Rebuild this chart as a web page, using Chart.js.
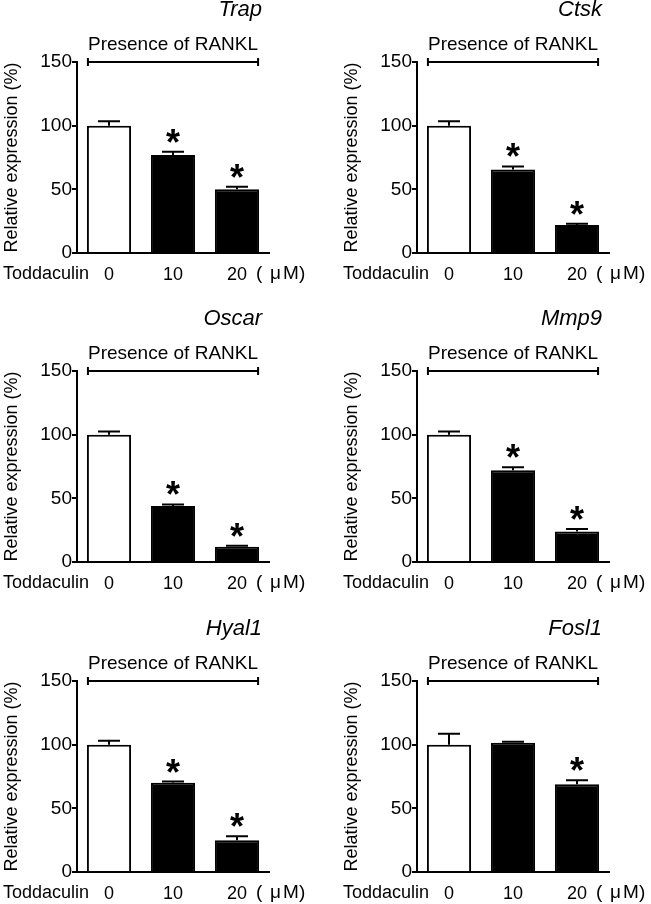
<!DOCTYPE html>
<html>
<head>
<meta charset="utf-8">
<script src="https://cdn.jsdelivr.net/npm/chart.js@4"></script>
<style>
  body { margin: 0; background: #fff; }
  .panel { position: absolute; }
</style>
</head>
<body>
<div class="panel" style="left:0;top:0"><canvas id="trap" width="340" height="285"></canvas></div>
<div class="panel" style="left:340px;top:0"><canvas id="ctsk" width="311" height="285"></canvas></div>
<div class="panel" style="left:0;top:309px"><canvas id="oscar" width="340" height="285"></canvas></div>
<div class="panel" style="left:340px;top:309px"><canvas id="mmp9" width="311" height="285"></canvas></div>
<div class="panel" style="left:0;top:619px"><canvas id="hyal1" width="340" height="285"></canvas></div>
<div class="panel" style="left:340px;top:619px"><canvas id="fosl1" width="311" height="285"></canvas></div>
<script>
const doses = ["0", "10", "20"];
const yTicks = [0, 50, 100, 150];

const trapMean = [100, 77, 50];
const trapErr = [3.5, 2.5, 2];
const trapSig = [false, true, true];

const ctskMean = [100, 65.5, 22];
const ctskErr = [3.5, 2.5, 1];
const ctskSig = [false, true, true];

const oscarMean = [100, 44, 12];
const oscarErr = [2.5, 1.2, 0.8];
const oscarSig = [false, true, true];

const mmp9Mean = [100, 72, 24];
const mmp9Err = [2.5, 2.5, 2];
const mmp9Sig = [false, true, true];

const hyal1Mean = [100, 70, 25];
const hyal1Err = [3, 1, 3];
const hyal1Sig = [false, true, true];

const fosl1Mean = [100, 101.5, 69];
const fosl1Err = [8.5, 0.7, 3];
const fosl1Sig = [false, false, true];

const font = '"Liberation Sans", Arial, sans-serif';
Chart.defaults.font.family = font;
Chart.defaults.color = "#000";

function makePanel(id, gene, mean, err, sig) {
  const canvas = document.getElementById(id);
  const W = canvas.width;

  // error bars, asterisks, RANKL bracket, gene name and axis extras
  const annotate = {
    id: "annotate",
    afterDatasetsDraw(chart) {
      const { ctx, chartArea } = chart;
      const y = chart.scales.y;
      const bars = chart.getDatasetMeta(0).data;
      ctx.save();
      ctx.strokeStyle = "#000";
      ctx.fillStyle = "#000";
      ctx.lineWidth = 2;
      bars.forEach((bar, i) => {
        const yBar = y.getPixelForValue(mean[i]);
        const yErr = y.getPixelForValue(mean[i] + err[i]);
        ctx.beginPath();
        ctx.moveTo(bar.x, yBar);
        ctx.lineTo(bar.x, yErr);
        ctx.moveTo(bar.x - 11, yErr);
        ctx.lineTo(bar.x + 11, yErr);
        ctx.stroke();
        if (sig[i]) {
          ctx.font = "bold 36px " + font;
          ctx.textAlign = "center";
          ctx.textBaseline = "alphabetic";
          ctx.fillText("*", bar.x, yErr + 3);
        }
      });

      // bracket over all bars
      const first = bars[0], last = bars[bars.length - 1];
      const x0 = first.x - first.width / 2 + 1;
      const x1 = last.x + last.width / 2 - 1;
      const yb = chartArea.top;
      ctx.beginPath();
      ctx.moveTo(x0, yb); ctx.lineTo(x1, yb);
      ctx.moveTo(x0, yb - 4); ctx.lineTo(x0, yb + 4);
      ctx.moveTo(x1, yb - 4); ctx.lineTo(x1, yb + 4);
      ctx.stroke();

      ctx.textBaseline = "alphabetic";
      ctx.textAlign = "center";
      ctx.font = "19px " + font;
      ctx.fillText("Presence of RANKL", (x0 + x1) / 2, yb - 12);

      ctx.textAlign = "right";
      ctx.font = "italic 22px " + font;
      ctx.fillText(gene, x1 + 4, yb - 46);

      ctx.textAlign = "left";
      ctx.font = "18px " + font;
      const yl = chartArea.bottom + 26;
      ctx.fillText("Toddaculin", 3, yl);
      ctx.font = "19px " + font;
      ctx.fillText("(", x1 - 2, yl);
      ctx.fillText("\u03bc", x1 + 12, yl);
      ctx.fillText("M)", x1 + 25, yl);
      ctx.restore();
    },
  };

  new Chart(canvas, {
    type: "bar",
    data: {
      labels: doses,
      datasets: [
        {
          data: mean,
          backgroundColor: mean.map((v, i) => (i === 0 ? "#fff" : "#000")),
          borderColor: "#000",
          borderWidth: 2,
          categoryPercentage: 1,
          barPercentage: 0.69,
        },
      ],
    },
    options: {
      responsive: false,
      animation: false,
      layout: { padding: { left: 0, top: 62, right: W - 269, bottom: 0 } },
      plugins: { legend: { display: false }, tooltip: { enabled: false } },
      scales: {
        x: {
          afterFit: (s) => { s.height = 32; },
          grid: { display: false, drawTicks: false },
          border: { display: true, color: "#000", width: 2 },
          ticks: { font: { size: 18 }, padding: 11, color: "#000" },
        },
        y: {
          min: 0,
          max: 150,
          afterFit: (s) => { s.width = 77; },
          afterBuildTicks: (s) => { s.ticks = yTicks.map((v) => ({ value: v })); },
          grid: { drawOnChartArea: false, drawTicks: true, tickLength: 5, color: "#000", lineWidth: 2 },
          border: { display: true, color: "#000", width: 2 },
          ticks: { font: { size: 19 }, padding: 0, color: "#000" },
          title: {
            display: true,
            text: "Relative expression (%)",
            font: { size: 18 },
            color: "#000",
            padding: { top: 1, bottom: 0 },
          },
        },
      },
    },
    plugins: [annotate],
  });
}

makePanel("trap", "Trap", trapMean, trapErr, trapSig);
makePanel("ctsk", "Ctsk", ctskMean, ctskErr, ctskSig);
makePanel("oscar", "Oscar", oscarMean, oscarErr, oscarSig);
makePanel("mmp9", "Mmp9", mmp9Mean, mmp9Err, mmp9Sig);
makePanel("hyal1", "Hyal1", hyal1Mean, hyal1Err, hyal1Sig);
makePanel("fosl1", "Fosl1", fosl1Mean, fosl1Err, fosl1Sig);
</script>
</body>
</html>
